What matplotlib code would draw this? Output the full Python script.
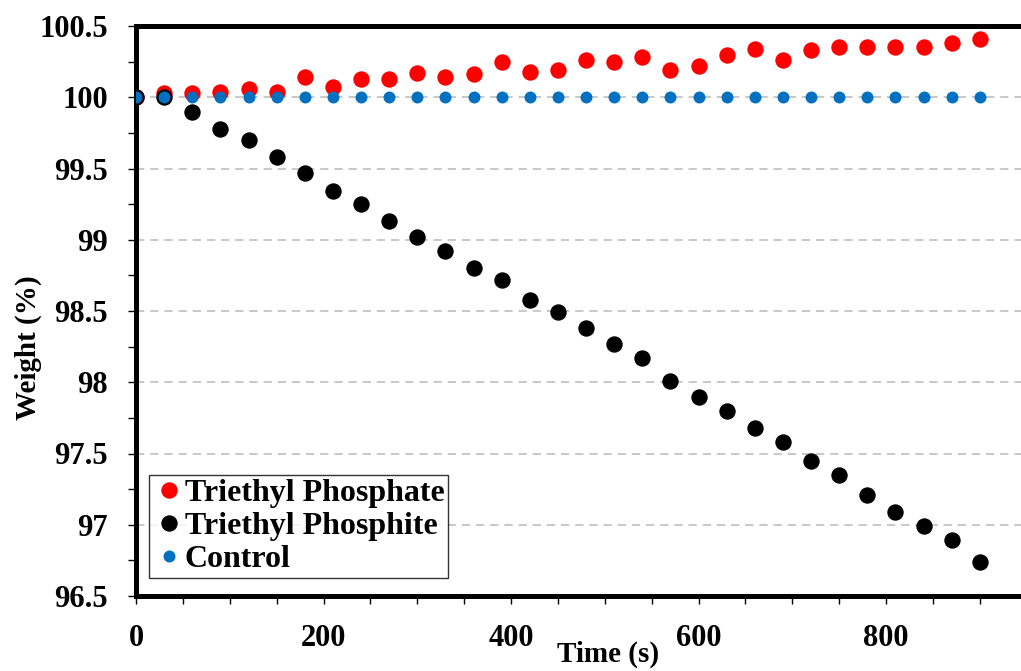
import matplotlib
matplotlib.use("Agg")
import matplotlib.pyplot as plt
from matplotlib.ticker import MultipleLocator, FuncFormatter

time_s = [0, 30, 60, 90, 120, 150, 180, 210, 240, 270, 300, 330, 360, 390, 420, 450,
          480, 510, 540, 570, 600, 630, 660, 690, 720, 750, 780, 810, 840, 870, 900]

phosphate = [100.00, 100.03, 100.03, 100.04, 100.06, 100.04, 100.14, 100.07, 100.13, 100.13,
             100.17, 100.14, 100.16, 100.25, 100.18, 100.19, 100.26, 100.245, 100.28, 100.19,
             100.22, 100.30, 100.34, 100.26, 100.33, 100.35, 100.35, 100.35, 100.35, 100.38,
             100.41]

phosphite = [100.00, 100.00, 99.90, 99.78, 99.70, 99.58, 99.47, 99.34, 99.25, 99.13,
             99.02, 98.92, 98.80, 98.72, 98.58, 98.49, 98.38, 98.27, 98.17, 98.01,
             97.90, 97.80, 97.68, 97.58, 97.45, 97.35, 97.21, 97.09, 96.99, 96.89,
             96.74]

control = [100.0] * 31

series_labels = ["Triethyl Phosphate", "Triethyl Phosphite", "Control"]

plt.rcParams['font.family'] = ['Liberation Serif', 'DejaVu Serif']
plt.rcParams['font.weight'] = 'bold'

fig = plt.figure(figsize=(10.21, 6.71), dpi=100)
ax = fig.add_axes([136/1021, 1-596/671, (1021-136)/1021, (596-26)/671])

ax.plot(time_s, phosphate, 'o', color='#ff0000', markersize=11.8, markeredgewidth=0,
        label=series_labels[0], zorder=3)
ax.plot(time_s, phosphite, 'o', color='#000000', markersize=11.8, markeredgewidth=0,
        label=series_labels[1], zorder=4)
ax.plot(time_s, control, 'o', color='#0070c0', markersize=8.6, markeredgewidth=0,
        label=series_labels[2], zorder=5)

ax.set_xlim(0, 944)
ax.set_ylim(96.5, 100.5)

ax.xaxis.set_major_locator(MultipleLocator(200))
ax.xaxis.set_minor_locator(MultipleLocator(50))
ax.yaxis.set_major_locator(MultipleLocator(0.5))
ax.yaxis.set_minor_locator(MultipleLocator(0.25))
ax.yaxis.set_major_formatter(FuncFormatter(lambda v, p: f"{v:g}"))

ax.tick_params(axis='both', which='both', direction='out', length=6, width=1,
               labelsize=22, color='black')
ax.tick_params(axis='x', pad=14)
ax.tick_params(axis='y', pad=14)
for lab in ax.get_xticklabels() + ax.get_yticklabels():
    lab.set_fontweight('bold')

ax.grid(axis='y', which='major', color='#bfbfbf', linestyle=(0, (5, 3.5)), linewidth=1.2, zorder=0)
ax.set_axisbelow(True)

for s in ['left', 'top', 'bottom']:
    ax.spines[s].set_linewidth(3.6)
    ax.spines[s].set_color('black')
ax.spines['right'].set_visible(False)

ax.set_xlabel("Time (s)", fontsize=21, fontweight='bold')
ax.xaxis.set_label_coords((608-136)/(1021-136), (596-641)/570)
ax.set_ylabel("Weight (%)", fontsize=21, fontweight='bold')
ax.yaxis.set_label_coords((42-136)/885, (596-348)/570)

leg = ax.legend(loc='lower left', bbox_to_anchor=(13/885, 18/570), fontsize=23,
                frameon=True, fancybox=False, edgecolor='black', borderpad=0.12,
                handletextpad=0.0, labelspacing=0.12, handlelength=1.0, borderaxespad=0)
leg.get_frame().set_linewidth(1.0)
for t in leg.get_texts():
    t.set_fontweight('bold')

fig.savefig("out.png", dpi=100)
